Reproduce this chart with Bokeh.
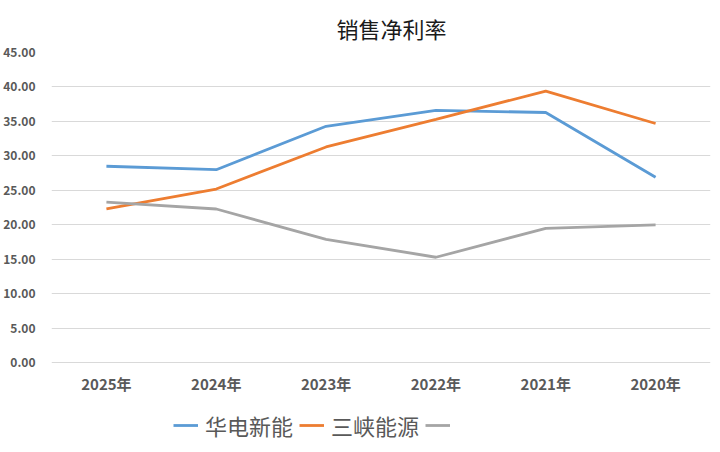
from bokeh.plotting import figure
from bokeh.models import Legend, LegendItem, FactorRange, Range1d, NumeralTickFormatter, FixedTicker
from bokeh.core.properties import value
from bokeh.embed import file_html
from bokeh.resources import INLINE

years = ["2025年", "2024年", "2023年", "2022年", "2021年", "2020年"]
huadian = [28.5, 28.0, 34.3, 36.6, 36.3, 26.9]
sanxia = [22.3, 25.2, 31.3, 35.3, 39.4, 34.7]
third = [23.3, 22.3, 17.9, 15.3, 19.5, 20.0]
yticks = [0, 5, 10, 15, 20, 25, 30, 35, 40, 45]

# frame spans 51..448 px; 0 sits at 362 px, 45 at 51 px
p = figure(width=712, height=448, x_range=FactorRange(*years), y_range=Range1d(-12.44, 45),
           output_backend="svg", toolbar_location=None,
           min_border_left=48, min_border_right=2, min_border_top=51, min_border_bottom=0)
p.outline_line_color = None
p.background_fill_color = "white"
p.border_fill_color = "white"

p.title.text = "销售净利率"
p.title.text_font = "Noto Sans CJK SC"
p.title.text_font_size = "22px"
p.title.text_font_style = "normal"
p.title.text_color = "#1a1a1a"
p.title.align = "left"
p.title.offset = 285
p.title.standoff = 18

r1 = p.line(years, huadian, line_color="#5b9bd5", line_width=2.8)
r2 = p.line(years, sanxia, line_color="#ed7d31", line_width=2.8)
r3 = p.line(years, third, line_color="#a5a5a5", line_width=2.8)

# category labels drawn just under the zero line
p.text(x=years, y=[-3.05] * len(years), text=years, text_align="center", text_baseline="middle",
       text_font=value("Noto Sans CJK SC"), text_font_style="bold", text_font_size="15px",
       text_color="#595959")

p.xaxis.visible = False
p.yaxis.ticker = FixedTicker(ticks=yticks)
p.yaxis.formatter = NumeralTickFormatter(format="0.00")
ax = p.yaxis[0]
ax.axis_line_color = None
ax.major_tick_line_color = None
ax.minor_tick_line_color = None
ax.major_label_text_color = "#595959"
ax.major_label_text_font = "Noto Sans CJK SC"
ax.major_label_text_font_style = "bold"
ax.major_label_text_font_size = "12px"
ax.major_label_standoff = 10
p.xgrid.grid_line_color = None
p.ygrid.grid_line_color = "#d9d9d9"
p.ygrid.grid_line_width = 1

legend = Legend(items=[LegendItem(label="华电新能", renderers=[r1]),
                       LegendItem(label="三峡能源", renderers=[r2]),
                       LegendItem(label=" ", renderers=[r3])],
                orientation="horizontal", location=(122, 7),
                margin=0, padding=2, label_standoff=7,
                label_text_font="Noto Sans CJK SC", label_text_font_size="22px",
                label_text_color="#595959", glyph_width=25, spacing=6,
                border_line_color=None, background_fill_alpha=0)
p.add_layout(legend, "center")

open("out.html", "w").write(file_html(p, INLINE))
